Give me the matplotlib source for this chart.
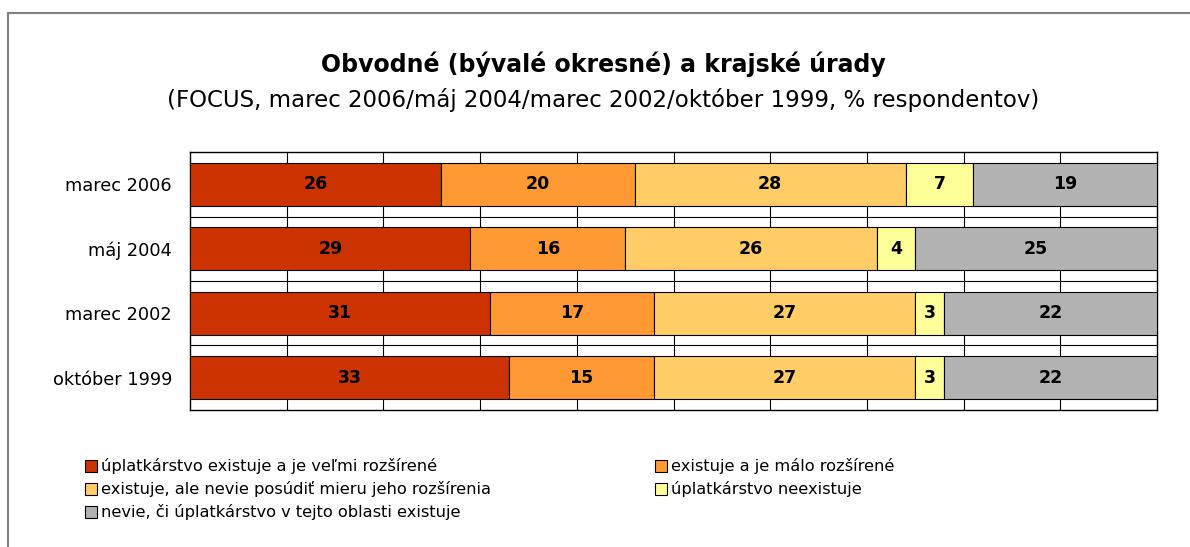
import matplotlib.pyplot as plt
from matplotlib.patches import Rectangle
import numpy as np

# Data (% respondents)
periods = ['marec 2006', 'máj 2004', 'marec 2002', 'október 1999']
series_names = [
    'úplatkárstvo existuje a je veľmi rozšírené',
    'existuje a je málo rozšírené',
    'existuje, ale nevie posúdiť mieru jeho rozšírenia',
    'úplatkárstvo neexistuje',
    'nevie, či úplatkárstvo v tejto oblasti existuje',
]
very_widespread = [26, 29, 31, 33]
little_widespread = [20, 16, 17, 15]
cannot_judge = [28, 26, 27, 27]
not_existing = [7, 4, 3, 3]
dont_know = [19, 25, 22, 22]
colors = ['#CC3300', '#FF9933', '#FFCC66', '#FFFF99', '#B2B2B2']

series = [very_widespread, little_widespread, cannot_judge, not_existing, dont_know]

plt.rcParams['font.family'] = ['DejaVu Sans']

fig = plt.figure(figsize=(11.9, 5.47), dpi=100)
ax = fig.add_axes([0.1597, 0.2505, 0.8126, 0.4716])

# outer chart frame (runs off the right/bottom edge like the original)
fig.patches.append(Rectangle((8 / 1190, -0.05), 1.2, 1 - 13 / 547 + 0.05,
                             transform=fig.transFigure, fill=False,
                             edgecolor='#808080', linewidth=1.5, zorder=0))

y = np.arange(len(periods))
left = np.zeros(len(periods))
for vals, name, col in zip(series, series_names, colors):
    ax.barh(y, vals, left=left, height=0.667, color=col,
            edgecolor='black', linewidth=0.8, label=name, zorder=3)
    for yi, l, v in zip(y, left, vals):
        ax.text(l + v / 2, yi, str(v), ha='center', va='center',
                fontsize=12.5, fontweight='bold', color='black', zorder=4)
    left = left + np.array(vals)

ax.set_xlim(0, 100)
ax.set_ylim(len(periods) - 0.5, -0.5)
ax.set_xticks(np.arange(10, 100, 10))
ax.set_xticklabels([])
ax.tick_params(axis='x', length=0)
ax.set_yticks(y)
ax.set_yticklabels(periods, fontsize=12.8)
ax.tick_params(axis='y', length=0, pad=13)
ax.grid(axis='x', color='black', linewidth=0.8, zorder=0)
for b in np.arange(0.5, len(periods) - 0.5, 1):
    ax.axhline(b, color='black', linewidth=0.8, zorder=0)
for s in ax.spines.values():
    s.set_linewidth(1.0)

fig.text(0.507, 1 - 64 / 547, 'Obvodné (bývalé okresné) a krajské úrady',
         ha='center', va='center', fontsize=17, fontweight='bold')
fig.text(0.507, 1 - 100 / 547,
         '(FOCUS, marec 2006/máj 2004/marec 2002/október 1999, % respondentov)',
         ha='center', va='center', fontsize=16.5)

# legend laid out like the Excel original: row-wise, two columns
legend_pos = [(85, 466), (655, 466), (85, 489), (655, 489), (85, 512)]
for (px, py), name, col in zip(legend_pos, series_names, colors):
    fig.patches.append(Rectangle((px / 1190, 1 - (py + 6) / 547), 12 / 1190, 12 / 547,
                                 transform=fig.transFigure, facecolor=col,
                                 edgecolor='black', linewidth=0.8))
    fig.text((px + 16) / 1190, 1 - py / 547, name, ha='left', va='center',
             fontsize=11.7)

fig.savefig('out.png', dpi=100)
